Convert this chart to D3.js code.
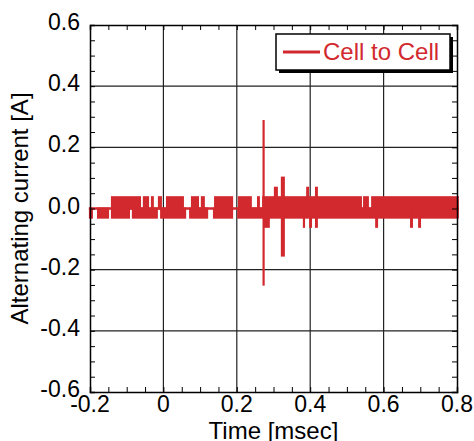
<!DOCTYPE html>
<html>
<head>
<meta charset="utf-8">
<script src="https://cdn.jsdelivr.net/npm/d3@7"></script>
<style>
  body { margin: 0; background: #fff; }
  text { font-family: "Liberation Sans", Arial, Helvetica, sans-serif; }
</style>
</head>
<body>
<script>
// axis ticks
const xTicks = [-0.2, 0, 0.2, 0.4, 0.6, 0.8];
const xTickLabels = ['-0.2', '0', '0.2', '0.4', '0.6', '0.8'];
const yTicks = [-0.6, -0.4, -0.2, 0, 0.2, 0.4, 0.6];
const yTickLabels = ['-0.6', '-0.4', '-0.2', '0.0', '0.2', '0.4', '0.6'];

// quantised levels of the trace [A]
const levelUp = 0.037;
const levelDown = -0.030;

// time spans [msec] where the trace toggles between 0 and levelUp
const upperRuns = [
  [-0.143, -0.061], [-0.056, -0.039], [-0.034, -0.026], [-0.015, -0.004],
  [0.007, 0.056], [0.075, 0.097], [0.102, 0.113], [0.138, 0.190],
  [0.203, 0.241], [0.255, 0.263], [0.269, 0.541], [0.544, 0.560], [0.566, 0.805]
];
// time spans where it toggles between 0 and levelDown
const lowerRuns = [
  [-0.203, -0.192], [-0.181, -0.148], [-0.143, -0.091], [-0.086, -0.015],
  [-0.009, 0.062], [0.070, 0.122], [0.135, 0.190], [0.201, 0.805]
];
// spikes: [t start, t end, max, min]
const spikes = [
  [0.270, 0.276, 0.286, -0.249],
  [0.274, 0.290, 0, -0.060],
  [0.301, 0.312, 0.068, 0],
  [0.320, 0.331, 0.101, -0.154],
  [0.380, 0.386, 0, -0.060],
  [0.389, 0.397, 0.068, 0],
  [0.397, 0.405, 0, -0.060],
  [0.413, 0.421, 0.068, -0.060],
  [0.577, 0.585, 0, -0.060],
  [0.672, 0.680, 0, -0.060],
  [0.694, 0.702, 0, -0.060]
];
const traceSpan = [-0.203, 0.805];
const seriesName = 'Cell to Cell';

const width = 474;
const height = 441;
const red = '#d2292e';

const svg = d3.select('body')
              .append('svg')
              .attr('width', width)
              .attr('height', height);

const x = d3.scaleLinear().domain([-0.2, 0.8]).range([90, 457]);
const y = d3.scaleLinear().domain([-0.6, 0.6]).range([392, 25]);

// grid
const grid = svg.append('g').attr('stroke', '#222').attr('stroke-width', 1.2);
grid.selectAll('.vx')
    .data(xTicks.slice(1, -1))
    .join('line')
        .attr('x1', d => x(d)).attr('x2', d => x(d))
        .attr('y1', y(0.6)).attr('y2', y(-0.6));
grid.selectAll('.hy')
    .data(yTicks.slice(1, -1))
    .join('line')
        .attr('y1', d => y(d)).attr('y2', d => y(d))
        .attr('x1', x(-0.2)).attr('x2', x(0.8));

// trace
const trace = svg.append('g').attr('fill', red);
trace.append('line')
    .attr('x1', x(traceSpan[0])).attr('x2', x(traceSpan[1]))
    .attr('y1', y(0)).attr('y2', y(0))
    .attr('stroke', red).attr('stroke-width', 2.5);

const band = (sel, data, hi, lo) =>
    sel.selectAll(null)
        .data(data)
        .join('rect')
            .attr('x', d => x(d[0]))
            .attr('width', d => x(d[1]) - x(d[0]))
            .attr('y', y(hi) - 1)
            .attr('height', y(lo) - y(hi) + 2);

trace.call(band, upperRuns, levelUp, 0);
trace.call(band, lowerRuns, 0, levelDown);

trace.selectAll(null)
    .data(spikes)
    .join('rect')
        .attr('x', d => x(d[0]))
        .attr('width', d => x(d[1]) - x(d[0]))
        .attr('y', d => y(d[2]) - 1)
        .attr('height', d => y(d[3]) - y(d[2]) + 2);

// frame + inward ticks on all four sides
const minorX = d3.range(-0.2, 0.8001, 0.05);
const minorY = d3.range(-0.6, 0.6001, 0.05);

svg.append('g')
    .attr('transform', `translate(0,${y(-0.6)})`)
    .call(d3.axisBottom(x).tickValues(minorX).tickSize(-5).tickFormat(''));
svg.append('g')
    .attr('transform', `translate(0,${y(0.6)})`)
    .call(d3.axisTop(x).tickValues(minorX).tickSize(-5).tickFormat(''));
svg.append('g')
    .attr('transform', `translate(${x(-0.2)},0)`)
    .call(d3.axisLeft(y).tickValues(minorY).tickSize(-5).tickFormat(''));
svg.append('g')
    .attr('transform', `translate(${x(0.8)},0)`)
    .call(d3.axisRight(y).tickValues(minorY).tickSize(-5).tickFormat(''));

svg.selectAll('.domain').attr('stroke', '#000').attr('stroke-width', 1.5);
svg.selectAll('.tick line').attr('stroke', '#000').attr('stroke-width', 1);

// tick labels
svg.append('g')
    .selectAll('text')
    .data(xTicks)
    .join('text')
        .attr('x', d => x(d))
        .attr('y', 412)
        .attr('text-anchor', 'middle')
        .attr('font-size', 23)
        .text((d, i) => xTickLabels[i]);

svg.append('g')
    .selectAll('text')
    .data(yTicks)
    .join('text')
        .attr('x', 80)
        .attr('y', d => y(d) + 5)
        .attr('text-anchor', 'end')
        .attr('font-size', 23)
        .text((d, i) => yTickLabels[i]);

// axis titles
svg.append('text')
    .attr('x', (x(-0.2) + x(0.8)) / 2)
    .attr('y', 439)
    .attr('text-anchor', 'middle')
    .attr('font-size', 24)
    .text('Time [msec]');

svg.append('text')
    .attr('transform', `translate(28,${(y(0.6) + y(-0.6)) / 2}) rotate(-90)`)
    .attr('text-anchor', 'middle')
    .attr('font-size', 24)
    .text('Alternating current [A]');

// legend
const legend = svg.append('g').attr('transform', 'translate(276,34)');
legend.append('rect')
    .attr('x', 3).attr('y', 3)
    .attr('width', 174).attr('height', 36)
    .attr('fill', '#000');
legend.append('rect')
    .attr('width', 174).attr('height', 36)
    .attr('fill', '#fff')
    .attr('stroke', '#000')
    .attr('stroke-width', 1.5);
legend.append('line')
    .attr('x1', 7).attr('x2', 44)
    .attr('y1', 18).attr('y2', 18)
    .attr('stroke', red).attr('stroke-width', 3);
legend.append('text')
    .attr('x', 47)
    .attr('y', 26)
    .attr('font-size', 24)
    .attr('fill', red)
    .text(seriesName);
</script>
</body>
</html>
